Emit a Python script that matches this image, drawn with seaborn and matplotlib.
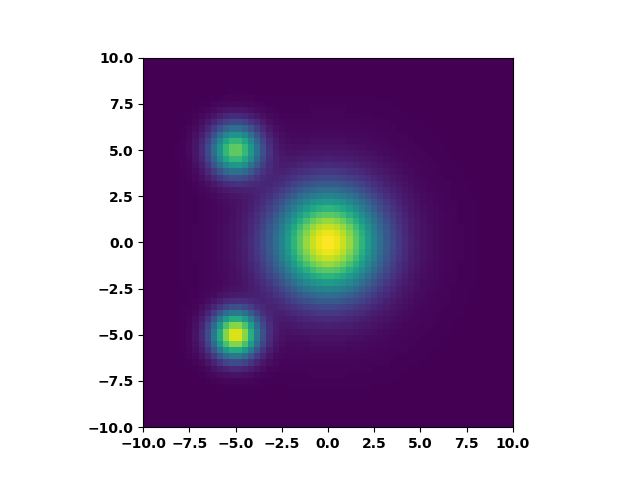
import numpy as np
import pandas as pd
import matplotlib
matplotlib.use("Agg")
import matplotlib.pyplot as plt
import seaborn as sns

# Blob parameters (last entry: faint halo round the centre)
blob_x = [0.0, -5.0, -5.0, 0.0]
blob_y = [0.0, 5.0, -5.0, 0.0]
blob_amp = [0.92, 0.76, 0.96, 0.08]
blob_sigma = [1.9, 0.95, 0.88, 3.3]

# Grid: 60 x 60 cells covering [-10, 10]
n_cells = 60
edges = np.linspace(-10, 10, n_cells + 1)
centers = (edges[:-1] + edges[1:]) / 2
tick_values = [-10.0, -7.5, -5.0, -2.5, 0.0, 2.5, 5.0, 7.5, 10.0]
tick_labels = ["−10.0", "−7.5", "−5.0", "−2.5", "0.0", "2.5", "5.0", "7.5", "10.0"]

X, Y = np.meshgrid(centers, centers)
Z = np.zeros_like(X)
for cx, cy, a, s in zip(blob_x, blob_y, blob_amp, blob_sigma):
    Z += a * np.exp(-((X - cx) ** 2 + (Y - cy) ** 2) / (2 * s ** 2))

# rows ordered top (y = +10) to bottom (y = -10)
df = pd.DataFrame(Z[::-1, :], index=centers[::-1], columns=centers)

fig = plt.figure(figsize=(6.4, 4.8), dpi=100)
ax = fig.add_axes([0.125, 0.11, 0.775, 0.77])
sns.heatmap(df, ax=ax, cmap="viridis", cbar=False, square=True,
            xticklabels=False, yticklabels=False, linewidths=0)

scale = n_cells / 20.0
ax.set_xticks([(v + 10) * scale for v in tick_values])
ax.set_xticklabels(tick_labels, rotation=0, fontweight="bold", fontsize=10)
ax.set_yticks([(10 - v) * scale for v in tick_values])
ax.set_yticklabels(tick_labels, rotation=0, fontweight="bold", fontsize=10)
ax.tick_params(axis="both", length=3.5, width=0.8, direction="out",
               bottom=True, left=True)
ax.set_xlabel("")
ax.set_ylabel("")
for sp in ax.spines.values():
    sp.set_visible(True)
    sp.set_linewidth(0.8)
    sp.set_color("black")

fig.savefig("out.png", dpi=100)
